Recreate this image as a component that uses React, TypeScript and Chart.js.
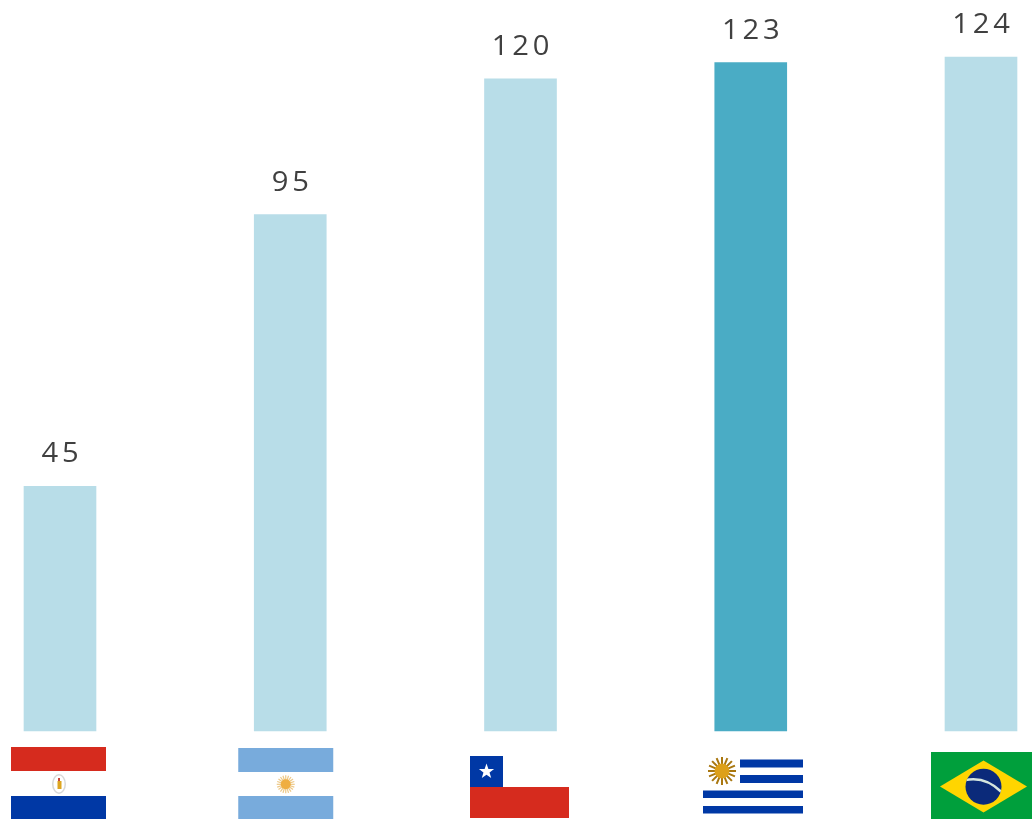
import React, { useEffect, useRef } from "react";
import { Chart, registerables } from "chart.js";

Chart.register(...registerables);

const countries = ["Paraguay", "Argentina", "Chile", "Uruguay", "Brazil"];
const values = [45, 95, 120, 123, 124];
const highlighted = "Uruguay";
const LIGHT = "#B8DDE8";
const DARK = "#4AACC5";
const RED = "#D62B1E";
const BLUE = "#0038A5";
const SKY = "#78ABDC";

type Ctx = CanvasRenderingContext2D;

function rays(ctx: Ctx, cx: number, cy: number, r: number, n: number, color: string, inner: number, w: number) {
  ctx.strokeStyle = color;
  ctx.lineWidth = w;
  for (let i = 0; i < n; i++) {
    const a = (i / n) * Math.PI * 2;
    ctx.beginPath();
    ctx.moveTo(cx + Math.cos(a) * inner, cy + Math.sin(a) * inner);
    ctx.lineTo(cx + Math.cos(a) * r, cy + Math.sin(a) * r);
    ctx.stroke();
  }
}

function disc(ctx: Ctx, cx: number, cy: number, r: number, color: string) {
  ctx.fillStyle = color;
  ctx.beginPath();
  ctx.arc(cx, cy, r, 0, Math.PI * 2);
  ctx.fill();
}

function star(ctx: Ctx, cx: number, cy: number, r: number) {
  ctx.fillStyle = "#fff";
  ctx.beginPath();
  for (let i = 0; i < 10; i++) {
    const a = -Math.PI / 2 + (i * Math.PI) / 5;
    const q = i % 2 ? r * 0.4 : r;
    ctx.lineTo(cx + Math.cos(a) * q, cy + Math.sin(a) * q);
  }
  ctx.closePath();
  ctx.fill();
}

// Each flag is drawn relative to the centre of its bar.
const flags: Record<string, (ctx: Ctx, x: number) => void> = {
  Paraguay(ctx, x) {
    const l = x - 49;
    ctx.fillStyle = RED;
    ctx.fillRect(l, 747, 95, 24);
    ctx.fillStyle = BLUE;
    ctx.fillRect(l, 796, 95, 23);
    ctx.fillStyle = "#D8D8D8";
    ctx.beginPath();
    ctx.ellipse(x - 1, 784, 7, 10, 0, 0, Math.PI * 2);
    ctx.fill();
    ctx.fillStyle = "#fff";
    ctx.beginPath();
    ctx.ellipse(x - 1, 784, 5.5, 8.5, 0, 0, Math.PI * 2);
    ctx.fill();
    ctx.fillStyle = "#DDA520";
    ctx.fillRect(x - 2.5, 781, 4, 8);
    ctx.fillStyle = "#C8453A";
    ctx.fillRect(x - 2, 778, 2, 3);
  },
  Argentina(ctx, x) {
    const l = x - 52;
    ctx.fillStyle = SKY;
    ctx.fillRect(l, 748, 95, 24);
    ctx.fillRect(l, 796, 95, 23);
    rays(ctx, x - 4.5, 784.3, 9, 20, "#EDC887", 3, 1.2);
    disc(ctx, x - 4.5, 784.3, 5, "#EFAE42");
  },
  Chile(ctx, x) {
    const l = x - 50.5;
    ctx.fillStyle = BLUE;
    ctx.fillRect(l, 756, 33, 31);
    ctx.fillStyle = RED;
    ctx.fillRect(l, 787, 99, 31);
    star(ctx, l + 16.5, 771.5, 8);
  },
  Uruguay(ctx, x) {
    const l = x - 47.75;
    ctx.fillStyle = BLUE;
    ctx.fillRect(l + 37, 759.5, 63, 8);
    ctx.fillRect(l + 37, 775, 63, 8);
    ctx.fillRect(l, 790.5, 100, 7.5);
    ctx.fillRect(l, 806, 100, 7.5);
    rays(ctx, l + 19, 771, 14, 16, "#A9770F", 5, 2);
    disc(ctx, l + 19, 771, 7.5, "#DDA01A");
  },
  Brazil(ctx, x) {
    const l = x - 50;
    const cx = l + 52.5;
    ctx.fillStyle = "#009F3C";
    ctx.fillRect(l, 752, 101, 67);
    ctx.fillStyle = "#FFD500";
    ctx.beginPath();
    ctx.moveTo(l + 9, 786.5);
    ctx.lineTo(cx, 760.5);
    ctx.lineTo(l + 96, 786.5);
    ctx.lineTo(cx, 812.5);
    ctx.closePath();
    ctx.fill();
    disc(ctx, cx, 786.7, 18, "#0B2A7A");
    ctx.save();
    ctx.beginPath();
    ctx.arc(cx, 786.7, 18, 0, Math.PI * 2);
    ctx.clip();
    ctx.strokeStyle = "#D5E6DE";
    ctx.lineWidth = 2.5;
    ctx.beginPath();
    ctx.moveTo(cx - 18, 780);
    ctx.quadraticCurveTo(cx + 2, 776, cx + 18, 792);
    ctx.stroke();
    ctx.restore();
  },
};

const barExtras = {
  id: "barExtras",
  afterDraw(chart: Chart) {
    const ctx = chart.ctx;
    const meta = chart.getDatasetMeta(0);
    const xScale = chart.scales.x;
    ctx.save();
    (ctx as any).filter = "blur(0.4px)";
    countries.forEach((name, i) => {
      flags[name](ctx, xScale.getPixelForValue(i));
    });
    ctx.restore();
    ctx.save();
    ctx.font = '27px "Open Sans"';
    ctx.fillStyle = "#404040";
    ctx.textAlign = "center";
    ctx.textBaseline = "alphabetic";
    (ctx as any).letterSpacing = "3.5px";
    meta.data.forEach((bar: any, i: number) => {
      ctx.save();
      ctx.translate(bar.x + 2, bar.y - 24);
      ctx.scale(1.08, 1);
      ctx.fillText(String(values[i]), 0, 0);
      ctx.restore();
    });
    ctx.restore();
  },
};

export default function App() {
  const ref = useRef<HTMLCanvasElement>(null);
  useEffect(() => {
    document.body.style.margin = "0";
    document.body.style.background = "#fff";
    const chart = new Chart(ref.current!, {
      type: "bar",
      data: {
        labels: countries,
        datasets: [
          {
            data: values,
            backgroundColor: countries.map((c) => (c === highlighted ? DARK : LIGHT)),
            barThickness: 72,
            clip: false as any,
          },
        ],
      },
      options: {
        animation: false,
        responsive: false,
        devicePixelRatio: 1,
        layout: { padding: { left: 60, right: 51, top: 0, bottom: 88 } },
        plugins: { legend: { display: false }, tooltip: { enabled: false }, title: { display: false } },
        scales: {
          x: { display: false, offset: false, grid: { display: false } },
          y: { display: false, min: 0, max: 134.5, grid: { display: false } },
        },
      },
      plugins: [barExtras],
    });
    return () => chart.destroy();
  }, []);
  return <canvas ref={ref} width={1032} height={819} style={{ display: "block", width: 1032, height: 819 }} />;
}
